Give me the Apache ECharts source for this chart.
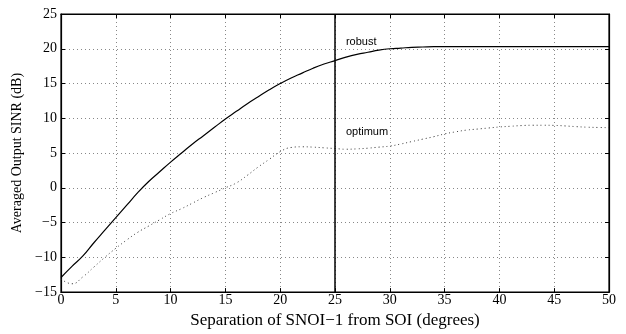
<!DOCTYPE html>
<html>
<head>
<meta charset="utf-8">
<script src="https://cdn.jsdelivr.net/npm/echarts@6/dist/echarts.min.js"></script>
<style>
  html, body { margin: 0; padding: 0; background: #fff; }
  #chart { width: 626px; height: 334px; }
</style>
</head>
<body>
<div id="chart"></div>
<script>
// separation of SNOI-1 from SOI, degrees
const degrees = [];
for (let d = 0; d <= 50; d++) degrees.push(d);

// averaged output SINR (dB)
const robust = [
  -12.9, -11.3, -9.8, -7.9, -6.1, -4.3, -2.5, -0.7, 0.9, 2.3,
  3.7, 5.0, 6.3, 7.5, 8.7, 9.9, 11.0, 12.1, 13.1, 14.1,
  15.0, 15.8, 16.5, 17.2, 17.8, 18.3, 18.8, 19.2, 19.5, 19.8,
  20.0, 20.1, 20.2, 20.25, 20.3, 20.3, 20.3, 20.3, 20.3, 20.3,
  20.3, 20.3, 20.3, 20.3, 20.3, 20.3, 20.3, 20.3, 20.3, 20.3, 20.3
];
const optimum = [
  -13.1, -13.8, -12.8, -11.4, -10.0, -8.7, -7.5, -6.4, -5.5, -4.6,
  -3.7, -3.0, -2.2, -1.4, -0.7, 0.0, 0.7, 1.8, 3.0, 4.1,
  5.2, 5.8, 5.9, 5.85, 5.75, 5.65, 5.55, 5.6, 5.7, 5.85,
  6.0, 6.3, 6.65, 7.0, 7.35, 7.75, 8.05, 8.3, 8.45, 8.6,
  8.75, 8.85, 8.95, 9.0, 9.0, 8.98, 8.9, 8.8, 8.72, 8.68, 8.65
];

// vertical marker and curve labels
const markerX = 25;
const robustLabel = ["robust", 26, 21.0];
const optimumLabel = ["optimum", 26, 8.0];

const serif = "Liberation Serif";
const sans = "Liberation Sans";
const minus = v => String(v).replace("-", "\u2212");

const myChart = echarts.init(document.getElementById("chart"));

const gridLine = { show: true, lineStyle: { color: "#888", type: [1, 3], width: 1 } };
const tickIn = { show: true, inside: true, length: 4, lineStyle: { color: "#000" } };
const frame = { show: true, onZero: false, lineStyle: { color: "#000", width: 1.2 } };

const option = {
  animation: false,
  grid: {
    left: 61, right: 17, top: 14, bottom: 28,
    show: true, borderColor: "#000", borderWidth: 1.2
  },
  xAxis: [
    {
      type: "value", min: 0, max: 50, interval: 5,
      name: "Separation of SNOI\u22121 from SOI (degrees)",
      nameLocation: "middle", nameGap: 13,
      nameTextStyle: { fontFamily: serif, fontSize: 17, color: "#000" },
      axisLine: frame,
      axisTick: tickIn,
      axisLabel: { fontFamily: serif, fontSize: 14, color: "#000", margin: 1, formatter: minus },
      splitLine: gridLine
    },
    {
      type: "value", min: 0, max: 50, interval: 5, position: "top",
      axisLine: frame,
      axisTick: tickIn, axisLabel: { show: false }, splitLine: { show: false }
    }
  ],
  yAxis: [
    {
      type: "value", min: -15, max: 25, interval: 5,
      name: "Averaged Output SINR (dB)",
      nameLocation: "middle", nameGap: 33,
      nameTextStyle: { fontFamily: serif, fontSize: 14, color: "#000" },
      axisLine: frame,
      axisTick: tickIn,
      axisLabel: { fontFamily: serif, fontSize: 14, color: "#000", margin: 4, formatter: minus },
      splitLine: gridLine
    },
    {
      type: "value", min: -15, max: 25, interval: 5, position: "right",
      axisLine: frame,
      axisTick: tickIn, axisLabel: { show: false }, splitLine: { show: false }
    }
  ],
  series: [
    {
      name: "robust",
      type: "line",
      data: degrees.map((d, i) => [d, robust[i]]),
      showSymbol: false,
      smooth: true,
      lineStyle: { color: "#000", width: 1.2 },
      markLine: {
        symbol: "none", silent: true,
        label: { show: false },
        lineStyle: { color: "#000", width: 1.5, type: "solid" },
        data: [{ xAxis: markerX }]
      },
      markPoint: {
        symbol: "circle", symbolSize: 0, silent: true,
        label: {
          show: true, position: "right", distance: 0,
          fontFamily: sans, fontSize: 11, color: "#000",
          formatter: robustLabel[0]
        },
        data: [{ coord: [robustLabel[1], robustLabel[2]] }]
      }
    },
    {
      name: "optimum",
      type: "line",
      data: degrees.map((d, i) => [d, optimum[i]]),
      showSymbol: false,
      smooth: true,
      lineStyle: { color: "#333", width: 1, type: [1, 3] },
      markPoint: {
        symbol: "circle", symbolSize: 0, silent: true,
        label: {
          show: true, position: "right", distance: 0,
          fontFamily: sans, fontSize: 11, color: "#000",
          formatter: optimumLabel[0]
        },
        data: [{ coord: [optimumLabel[1], optimumLabel[2]] }]
      }
    }
  ]
};

option && myChart.setOption(option);
</script>
</body>
</html>
